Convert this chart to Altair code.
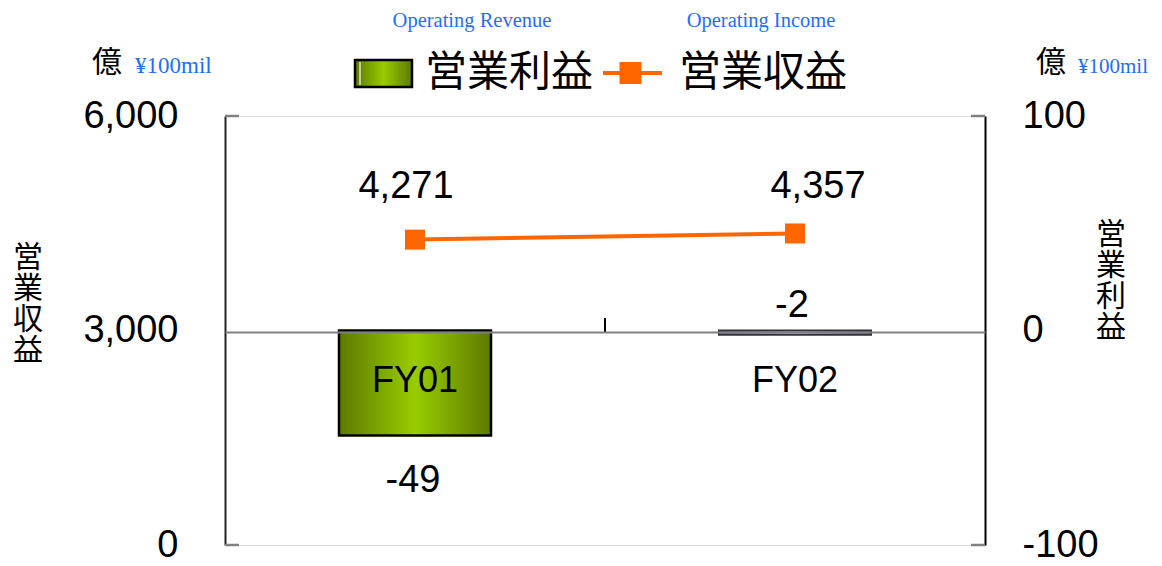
import altair as alt
import pandas as pd

categories = ["FY01", "FY02"]
revenue = [4271, 4357]        # 営業収益 (left axis)
income = [-49, -2]            # 営業利益 (right axis)
rev_ticks = [0, 3000, 6000]
inc_ticks = [-100, 0, 100]

df = pd.DataFrame({"cat": categories, "revenue": revenue, "income": income})
one = pd.DataFrame({"a": [0]})

W, H = 760, 429
NUM_FONT = "Liberation Sans"
CJK = "Noto Sans CJK JP"
SERIF = "Liberation Serif"
BLUE = "#1f6ff5"
ORANGE = "#ff6600"

x_enc = alt.X(
    "cat:N",
    sort=categories,
    scale=alt.Scale(domain=categories, paddingInner=0, paddingOuter=0),
    axis=alt.Axis(
        title=None, orient="bottom", offset=-213, ticks=False, zindex=1,
        domainColor="#808080", domainWidth=2, labelFont=NUM_FONT,
        labelFontSize=36, labelColor="#000", labelPadding=31, labelAngle=0,
    ),
)

rev_scale = alt.Scale(domain=[0, 6000], nice=False, zero=False)
inc_scale = alt.Scale(domain=[-100, 100], nice=False, zero=False)

green_grad = alt.Gradient(
    gradient="linear", x1=0, x2=1, y1=0, y2=0,
    stops=[alt.GradientStop(color="#5c7a00", offset=0),
           alt.GradientStop(color="#99cc00", offset=0.5),
           alt.GradientStop(color="#5c7a00", offset=1)],
)
lav_grad = alt.Gradient(
    gradient="linear", x1=0, x2=1, y1=0, y2=0,
    stops=[alt.GradientStop(color="#66668c", offset=0),
           alt.GradientStop(color="#ccccff", offset=0.5),
           alt.GradientStop(color="#66668c", offset=1)],
)

base = alt.Chart(df).transform_calculate(
    rev_lbl="format(datum.revenue, ',')",
    inc_lbl="toString(datum.income)",
)

# Left axis (revenue)
left_axis = base.mark_point(opacity=0).encode(
    x=x_enc,
    y=alt.Y("revenue:Q", scale=rev_scale, axis=alt.Axis(
        title=None, orient="left", values=rev_ticks, ticks=False, grid=False,
        labelExpr="format(datum.value, ',')",
        domainColor="#222", domainWidth=2, labelFont=NUM_FONT, labelFontSize=38,
        labelColor="#000", labelPadding=47)),
)

# Bars (income, right axis)
bar1 = base.transform_filter(alt.datum.cat == "FY01").mark_bar(
    width=alt.RelativeBandSize(0.4), fill=green_grad, stroke="#000", strokeWidth=2.5
).encode(
    x=x_enc,
    y=alt.Y("income:Q", scale=inc_scale, axis=alt.Axis(
        title=None, orient="right", values=inc_ticks, ticks=False, grid=False,
        labelExpr="toString(datum.value)",
        domainColor="#000", domainWidth=2, labelFont=NUM_FONT, labelFontSize=38,
        labelColor="#000", labelPadding=37)),
    y2=alt.datum(0),
)
bar2 = base.transform_filter(alt.datum.cat == "FY02").mark_bar(
    width=alt.RelativeBandSize(0.4), fill=lav_grad, stroke="#333", strokeWidth=2
).encode(
    x=x_enc,
    y=alt.Y("income:Q", scale=inc_scale, axis=None),
    y2=alt.datum(0),
)

# Line (revenue)
line = base.mark_line(color=ORANGE, strokeWidth=4).encode(
    x=x_enc, y=alt.Y("revenue:Q", scale=rev_scale, axis=None))
pts = base.mark_point(shape="square", size=400, filled=True, color=ORANGE, opacity=1).encode(
    x=x_enc, y=alt.Y("revenue:Q", scale=rev_scale, axis=None))

def rev_label(cat, dx, dy):
    return base.transform_filter(alt.datum.cat == cat).mark_text(
        font=NUM_FONT, fontSize=38, color="#000", dx=dx, dy=dy, baseline="alphabetic"
    ).encode(x=x_enc, y=alt.Y("revenue:Q", scale=rev_scale, axis=None),
             text="rev_lbl:N")

def inc_label(cat, dx, dy):
    return base.transform_filter(alt.datum.cat == cat).mark_text(
        font=NUM_FONT, fontSize=38, color="#000", dx=dx, dy=dy, baseline="alphabetic"
    ).encode(x=x_enc, y=alt.Y("income:Q", scale=inc_scale, axis=None),
             text="inc_lbl:N")

labels = [rev_label("FY01", -9, -42), rev_label("FY02", 23, -35),
          inc_label("FY01", -2, 56), inc_label("FY02", -3, -18)]

# Axis ticks (gray, inward)
tick_l = alt.Chart(pd.DataFrame({"v": [0, 6000]})).mark_rule(color="#808080", strokeWidth=2.5).encode(
    y=alt.Y("v:Q", scale=rev_scale, axis=None), x=alt.value(0), x2=alt.value(14))
tick_r = alt.Chart(pd.DataFrame({"v": [-100, 100]})).mark_rule(color="#808080", strokeWidth=2.5).encode(
    y=alt.Y("v:Q", scale=inc_scale, axis=None), x=alt.value(746), x2=alt.value(760))
tick_mid = alt.Chart(one).mark_rule(color="#000", strokeWidth=2).encode(
    x=alt.value(380), y=alt.value(202), y2=alt.value(216))

# Decorative texts
def txt(text, x, y, size, font, color="#000", align="center", baseline="middle", **kw):
    return alt.Chart(one).mark_text(text=text, font=font, fontSize=size, color=color,
                                    align=align, baseline=baseline, **kw).encode(
        x=alt.value(x), y=alt.value(y))

decor = [
    txt("Operating Revenue", 247, -89, 20.5, SERIF, BLUE, baseline="alphabetic"),
    txt("Operating Income", 536, -89, 20.5, SERIF, BLUE, baseline="alphabetic"),
    txt("億", -118, -53, 30, CJK),
    txt("¥100mil", -90, -43, 23, SERIF, BLUE, align="left", baseline="alphabetic"),
    txt("億", 826, -53, 30, CJK),
    txt("¥100mil", 853, -43, 21, SERIF, BLUE, align="left", baseline="alphabetic"),
    txt("営業利益", 200, -43, 42, CJK, align="left"),
    txt("営業収益", 454, -43, 42, CJK, align="left"),
    txt(["営", "業", "収", "益"], -197, 142, 30, CJK, lineHeight=31),
    txt(["営", "業", "利", "益"], 886, 119, 30, CJK, lineHeight=31),
]

leg_rect = alt.Chart(one).mark_rect(fill=green_grad, stroke="#000", strokeWidth=2.5).encode(
    x=alt.value(130), x2=alt.value(187), y=alt.value(-56), y2=alt.value(-29))
leg_white = alt.Chart(one).mark_rule(color="#fff", strokeWidth=1.2).encode(
    x=alt.value(135), y=alt.value(-54), y2=alt.value(-31))
leg_line = alt.Chart(one).mark_rule(color=ORANGE, strokeWidth=4).encode(
    x=alt.value(378), x2=alt.value(437), y=alt.value(-43))
leg_sq = alt.Chart(one).mark_point(shape="square", size=484, filled=True, color=ORANGE, opacity=1).encode(
    x=alt.value(405.5), y=alt.value(-43))

chart = alt.layer(
    left_axis, bar1, bar2, tick_l, tick_r, tick_mid, line, pts, *labels,
    leg_rect, leg_white, leg_line, leg_sq, *decor,
).resolve_scale(y="independent").properties(
    width=W, height=H,
    autosize=alt.AutoSizeParams(type="none"),
    padding={"left": 217, "top": 108, "right": 169, "bottom": 20},
).configure_view(stroke=None).configure(background="#ffffff")

chart.save("out.html", embed_options={"renderer": "svg", "actions": False})
